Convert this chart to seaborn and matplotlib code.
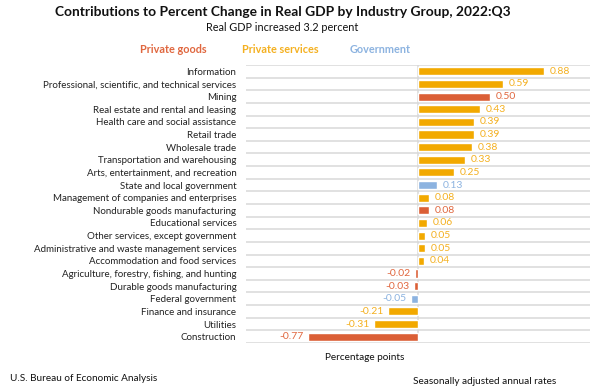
import matplotlib.pyplot as plt
import numpy as np
import pandas as pd
import seaborn as sns
from matplotlib.ticker import FixedLocator

INDUSTRIES = [
    "Information",
    "Professional, scientific, and technical services",
    "Mining",
    "Real estate and rental and leasing",
    "Health care and social assistance",
    "Retail trade",
    "Wholesale trade",
    "Transportation and warehousing",
    "Arts, entertainment, and recreation",
    "State and local government",
    "Management of companies and enterprises",
    "Nondurable goods manufacturing",
    "Educational services",
    "Other services, except government",
    "Administrative and waste management services",
    "Accommodation and food services",
    "Agriculture, forestry, fishing, and hunting",
    "Durable goods manufacturing",
    "Federal government",
    "Finance and insurance",
    "Utilities",
    "Construction",
]
CONTRIBUTIONS = [0.88, 0.59, 0.50, 0.43, 0.39, 0.39, 0.38, 0.33, 0.25, 0.13,
                 0.08, 0.08, 0.06, 0.05, 0.05, 0.04, -0.02, -0.03, -0.05,
                 -0.21, -0.31, -0.77]
GROUPS = ["Private services", "Private services", "Private goods",
          "Private services", "Private services", "Private services",
          "Private services", "Private services", "Private services",
          "Government", "Private services", "Private goods",
          "Private services", "Private services", "Private services",
          "Private services", "Private goods", "Private goods", "Government",
          "Private services", "Private services", "Private goods"]

COLORS = {
    "Private goods": "#DB5F36",
    "Private services": "#F2A900",
    "Government": "#8CB3E0",
}
TEXT_COLORS = {
    "Private goods": "#E0673F",
    "Private services": "#F4B020",
    "Government": "#8CB3E0",
}

sns.set_theme(style="white")
plt.rcParams["font.family"] = ["Lato", "DejaVu Sans"]

df = pd.DataFrame({"industry": INDUSTRIES, "value": CONTRIBUTIONS,
                   "group": GROUPS})

fig = plt.figure(figsize=(6.02, 3.89), dpi=100)
ax = fig.add_axes([0.4086, 0.1183, 0.5714, 0.7146])
sns.barplot(data=df, y="industry", x="value", hue="group", palette=COLORS,
            dodge=False, orient="h", width=0.64, saturation=1, legend=False,
            ax=ax, order=INDUSTRIES)

ax.set_xlim(-1.2, 1.2)
ax.set_ylim(len(INDUSTRIES) - 0.5, -0.5)
ax.set_xlabel("")
ax.set_ylabel("")
ax.set_xticks([])
ax.tick_params(axis="y", length=0, pad=7, labelsize=7.0, labelcolor="#222222")
for lbl in ax.get_yticklabels():
    lbl.set_horizontalalignment("right")

# gridlines between rows
ax.yaxis.set_minor_locator(FixedLocator(np.arange(-0.5, len(INDUSTRIES), 1)))
ax.grid(which="minor", axis="y", color="#D9D9D9", linewidth=1.1)
ax.tick_params(axis="y", which="minor", length=0)
ax.axvline(0, color="#D9D9D9", linewidth=1.1, zorder=0)
for s in ax.spines.values():
    s.set_visible(False)

for i, (v, g) in enumerate(zip(CONTRIBUTIONS, GROUPS)):
    if v >= 0:
        ax.text(v + 0.04, i, f"{v:.2f}", ha="left", va="center",
                fontsize=7.5, color=TEXT_COLORS[g])
    else:
        ax.text(v - 0.03, i, f"{v:.2f}", ha="right", va="center",
                fontsize=7.5, color=TEXT_COLORS[g])

fig.text(0.469, 0.968, "Contributions to Percent Change in Real GDP by Industry Group, 2022:Q3",
         ha="center", va="center", fontsize=9.9, fontweight="bold", color="#111111")
fig.text(0.469, 0.929, "Real GDP increased 3.2 percent", ha="center", va="center",
         fontsize=7.8, color="#111111")
fig.text(0.288, 0.873, "Private goods", ha="center", va="center", fontsize=7.8,
         fontweight="bold", color=TEXT_COLORS["Private goods"])
fig.text(0.465, 0.873, "Private services", ha="center", va="center", fontsize=7.8,
         fontweight="bold", color=TEXT_COLORS["Private services"])
fig.text(0.632, 0.873, "Government", ha="center", va="center", fontsize=7.8,
         fontweight="bold", color=TEXT_COLORS["Government"])
fig.text(0.606, 0.082, "Percentage points", ha="center", va="center",
         fontsize=7.2, color="#111111")
fig.text(0.017, 0.028, "U.S. Bureau of Economic Analysis", ha="left", va="center",
         fontsize=7.2, color="#111111")
fig.text(0.686, 0.020, "Seasonally adjusted annual rates", ha="left", va="center",
         fontsize=7.2, color="#111111")

fig.savefig("out.png", dpi=100)
